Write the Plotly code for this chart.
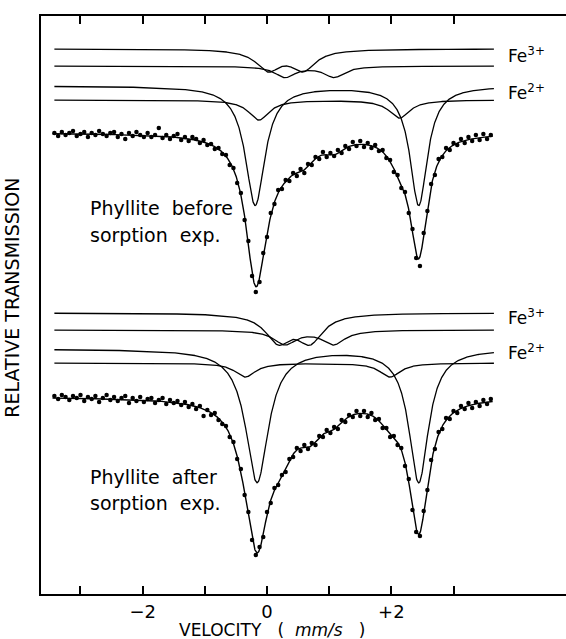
import numpy as np
import plotly.graph_objects as go

# ---------------- data ----------------
# channel velocities (mm/s)
VEL = [-3.42, -3.36, -3.30, -3.24, -3.18, -3.12, -3.06, -3.00, -2.94, -2.88,
       -2.82, -2.76, -2.70, -2.64, -2.58, -2.52, -2.46, -2.40, -2.34, -2.28,
       -2.22, -2.16, -2.10, -2.04, -1.98, -1.92, -1.86, -1.80, -1.74, -1.68,
       -1.62, -1.56, -1.50, -1.44, -1.38, -1.32, -1.26, -1.20, -1.14, -1.08,
       -1.02, -0.96, -0.90, -0.84, -0.78, -0.72, -0.66, -0.60, -0.54, -0.48,
       -0.42, -0.36, -0.30, -0.24, -0.18, -0.12, -0.06, 0.00, 0.06, 0.12,
       0.18, 0.24, 0.30, 0.36, 0.42, 0.48, 0.54, 0.60, 0.66, 0.72,
       0.78, 0.84, 0.90, 0.96, 1.02, 1.08, 1.14, 1.20, 1.26, 1.32,
       1.38, 1.44, 1.50, 1.56, 1.62, 1.68, 1.74, 1.80, 1.86, 1.92,
       1.98, 2.04, 2.10, 2.16, 2.22, 2.28, 2.34, 2.40, 2.46, 2.52,
       2.58, 2.64, 2.70, 2.76, 2.82, 2.88, 2.94, 3.00, 3.06, 3.12,
       3.18, 3.24, 3.30, 3.36, 3.42, 3.48, 3.54, 3.60]

# measured transmission, "before sorption" spectrum (arbitrary offset units)
TOP_DATA = [461, 458, 462, 459, 461, 463, 458, 460, 462, 457,
            461, 459, 463, 460, 458, 461, 462, 457, 460, 455,
            461, 458, 462, 459, 457, 461, 457, 459, 466, 456,
            459, 455, 458, 460, 454, 457, 453, 457, 455, 451,
            454, 449, 450, 445, 446, 440, 439, 429, 426, 411,
            401, 374, 353, 318, 302, 312, 341, 357, 381, 390,
            404, 405, 414, 413, 421, 418, 425, 421, 430, 429,
            437, 435, 442, 437, 441, 438, 444, 441, 448, 445,
            452, 448, 453, 447, 451, 446, 449, 443, 444, 436,
            434, 422, 419, 406, 402, 381, 365, 336, 328, 361,
            383, 410, 419, 435, 437, 446, 444, 451, 449, 455,
            451, 457, 453, 459, 454, 460, 455, 459]

# measured transmission, "after sorption" spectrum
BOT_DATA = [198, 195, 199, 197, 194, 198, 196, 199, 193, 197,
            195, 198, 192, 196, 199, 194, 197, 193, 196, 198,
            191, 196, 193, 197, 192, 195, 196, 191, 194, 196,
            190, 194, 191, 193, 189, 192, 187, 190, 185, 188,
            178, 184, 179, 181, 174, 170, 168, 157, 152, 135,
            125, 99, 82, 54, 39, 47, 57, 82, 91, 106,
            109, 119, 122, 135, 137, 146, 143, 149, 145, 151,
            149, 158, 157, 164, 161, 167, 165, 174, 172, 179,
            177, 183, 178, 183, 177, 181, 174, 175, 166, 166,
            157, 158, 149, 146, 128, 115, 84, 62, 58, 83,
            104, 134, 145, 162, 165, 176, 175, 183, 181, 188,
            185, 191, 186, 192, 188, 194, 190, 195]

# fitted sub-spectra (quadrupole doublets): centres (mm/s), depths, half widths (mm/s)
# order: Fe3+ (site A), Fe3+ (site B), Fe2+ (major), Fe2+ (minor)
TOP_BASE = 461
TOP_OFFSETS = [545, 528, 508, 494]
TOP_CENTERS = [[0.02, 0.58], [0.29, 1.08], [-0.19, 2.44], [-0.13, 2.13]]
TOP_DEPTHS = [[20, 20], [11, 11], [119, 119], [20, 18]]
TOP_HWHM = [[0.24, 0.24], [0.2, 0.2], [0.19, 0.17], [0.2, 0.2]]

BOT_BASE = 197
BOT_OFFSETS = [281, 264, 245, 231]
BOT_CENTERS = [[0.18, 0.69], [0.29, 1.07], [-0.16, 2.44], [-0.35, 1.98]]
BOT_DEPTHS = [[27, 27], [14, 14], [133, 133], [14, 14]]
BOT_HWHM = [[0.25, 0.25], [0.22, 0.22], [0.22, 0.19], [0.2, 0.2]]

MAJOR_TICKS = [-2, 0, 2]
MAJOR_TEXT = ["\u22122", "0", "+2"]
MINOR_TICKS = [-3, -1, 1, 3]

FONT = "DejaVu Sans"


def lorentz_lines(v, centers, depths, hwhm):
    out = np.zeros_like(v, dtype=float)
    for c, d, g in zip(centers, depths, hwhm):
        out += d / (1.0 + ((v - c) / g) ** 2)
    return out


vcomp = np.linspace(-3.42, 3.65, 1400)
vfit = np.linspace(VEL[0] - 0.03, VEL[-1] + 0.03, 1400)

fig = go.Figure()
for base, offs, cens, deps, hw, data in [
    (TOP_BASE, TOP_OFFSETS, TOP_CENTERS, TOP_DEPTHS, TOP_HWHM, TOP_DATA),
    (BOT_BASE, BOT_OFFSETS, BOT_CENTERS, BOT_DEPTHS, BOT_HWHM, BOT_DATA),
]:
    total = np.zeros_like(vfit)
    for off, c, d, g in zip(offs, cens, deps, hw):
        fig.add_trace(go.Scatter(x=vcomp, y=off - lorentz_lines(vcomp, c, d, g), mode="lines",
                                 line=dict(color="black", width=1.3), hoverinfo="skip"))
        total += lorentz_lines(vfit, c, d, g)
    fig.add_trace(go.Scatter(x=vfit, y=base - total, mode="lines",
                             line=dict(color="black", width=1.4), hoverinfo="skip"))
    fig.add_trace(go.Scatter(x=VEL, y=data, mode="markers",
                             marker=dict(color="black", size=4.5), hoverinfo="skip"))

# plot frame: 41..566 px horizontally, 16..594 px vertically
PX0, PXS = 267.0, 62.17


def vx(px):
    return (px - PX0) / PXS


ann = []


def text(px, py, s, size=18, xanchor="left"):
    ann.append(dict(x=(px - 41) / 525, y=(594 - py) / 578, xref="paper", yref="paper", text=s,
                    showarrow=False, xanchor=xanchor, yanchor="middle",
                    font=dict(family=FONT, size=size, color="black")))


for py in (55, 317):
    text(506, py, "Fe<sup>3+</sup>", 17)
for py in (92, 352):
    text(506, py, "Fe<sup>2+</sup>", 17)
text(88, 208, "Phyllite\u00a0\u00a0before", 19)
text(88, 235, "sorption\u00a0\u00a0exp.", 19)
text(88, 477, "Phyllite\u00a0\u00a0after", 19)
text(88, 503, "sorption\u00a0\u00a0exp.", 19)
text(272, 630, "VELOCITY\u00a0\u00a0\u00a0(\u00a0\u00a0<i>mm/s</i>\u00a0\u00a0\u00a0)", 17, "center")
ann.append(dict(x=-0.056, y=0.512, xref="paper", yref="paper", text="RELATIVE\u00a0TRANSMISSION",
                textangle=-90, showarrow=False, xanchor="center", yanchor="middle",
                font=dict(family=FONT, size=19, color="black")))

fig.update_layout(
    width=566, height=639, margin=dict(l=41, r=0, t=16, b=45),
    paper_bgcolor="white", plot_bgcolor="white", showlegend=False,
    annotations=ann,
    xaxis=dict(range=[vx(41), vx(566)], tickmode="array", tickvals=MAJOR_TICKS, ticktext=MAJOR_TEXT,
               ticks="inside", ticklen=8, tickwidth=1.5, tickcolor="black",
               minor=dict(tickmode="array", tickvals=MINOR_TICKS, ticks="inside", ticklen=8,
                          tickwidth=1.5, tickcolor="black", showgrid=False),
               showline=True, linecolor="black", linewidth=2, mirror="ticks",
               showgrid=False, zeroline=False,
               tickfont=dict(family=FONT, size=18, color="black")),
    yaxis=dict(range=[0, 578], showline=True, linecolor="black", linewidth=2, mirror=False,
               showticklabels=False, ticks="", showgrid=False, zeroline=False),
)

fig.write_html("out.html")
